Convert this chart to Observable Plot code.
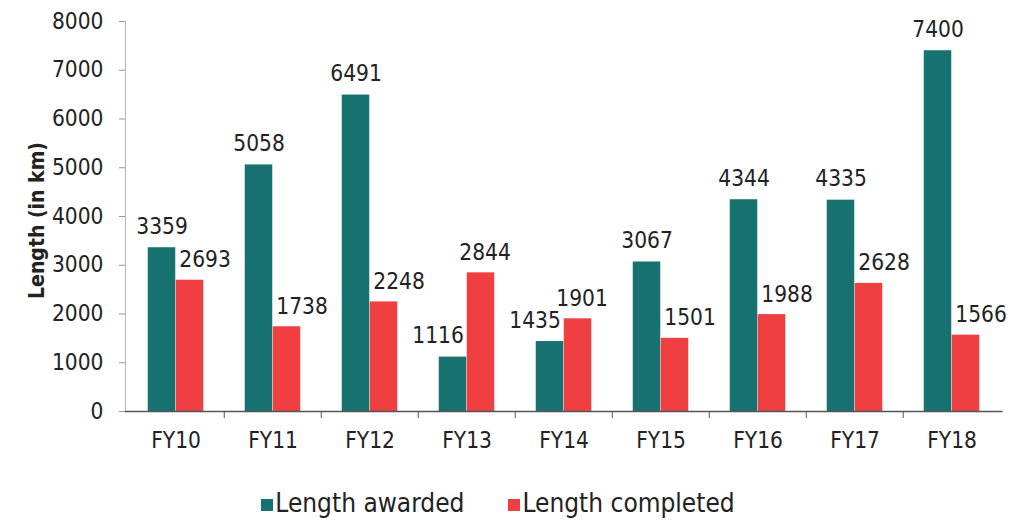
<!DOCTYPE html>
<html>
<head>
<meta charset="utf-8">
<script src="https://cdn.jsdelivr.net/npm/d3@7"></script>
<script src="https://cdn.jsdelivr.net/npm/@observablehq/plot@0.6"></script>
<style>
  html, body { margin: 0; padding: 0; background: #fff; }
  body { width: 1012px; height: 521px; overflow: hidden; font-family: "DejaVu Sans Condensed", "DejaVu Sans", sans-serif; font-stretch: condensed; color: #222; }
  #chart svg { display: block; font-family: "DejaVu Sans Condensed", "DejaVu Sans", sans-serif; font-stretch: condensed; }
  #legend { display: flex; justify-content: center; align-items: center; margin-top: 26px; padding-right: 16px; font-size: 26px; line-height: 30px; color: #222; }
  #legend .item { display: flex; align-items: center; }
  #legend .sw { width: 12px; height: 12px; margin-right: 2px; margin-top: 3px; }
  #legend .item + .item { margin-left: 44px; }
</style>
</head>
<body>
<div id="chart"></div>
<div id="legend"></div>
<script>
const years = ["FY10", "FY11", "FY12", "FY13", "FY14", "FY15", "FY16", "FY17", "FY18"];
const awarded = [3359, 5058, 6491, 1116, 1435, 3067, 4344, 4335, 7400];
const completed = [2693, 1738, 2248, 2844, 1901, 1501, 1988, 2628, 1566];
const seriesNames = ["Length awarded", "Length completed"];
const seriesColors = ["#167170", "#ef3f41"];
const yTicks = [0, 1000, 2000, 3000, 4000, 5000, 6000, 7000, 8000];
const yLabel = "Length (in km)";

const rows = [];
years.forEach((y, i) => {
  rows.push({year: y, series: seriesNames[0], value: awarded[i], other: completed[i]});
  rows.push({year: y, series: seriesNames[1], value: completed[i], other: awarded[i]});
});
const aw = rows.filter(d => d.series === seriesNames[0]);
const co = rows.filter(d => d.series === seriesNames[1]);

const W = 1012, H = 462, mL = 125, mR = 9.5, mT = 21, mB = 51;
const step = (W - mL - mR) / years.length;
const barW = 28;
const plotH = H - mT - mB;
const fs = 22.5;

const chart = Plot.plot({
  width: W, height: H,
  marginLeft: mL, marginRight: mR, marginTop: mT, marginBottom: mB,
  x: {type: "band", domain: years, padding: 0},
  y: {domain: [0, 8000]},
  color: {domain: seriesNames, range: seriesColors},
  marks: [
    Plot.frame({anchor: "left", stroke: "#b5b5b5"}),
    Plot.axisY({ticks: yTicks, tickFormat: d => String(d), tickSize: 6, tickPadding: 16, fontSize: fs, label: null, stroke: "#999", color: "#222"}),
    Plot.axisX({tickSize: 0, tickPadding: 21, fontSize: fs, label: null, color: "#222"}),
    Plot.barY(aw, {x: "year", y: "value", fill: "series", insetLeft: step / 2 - barW, insetRight: step / 2}),
    Plot.barY(co, {x: "year", y: "value", fill: "series", insetLeft: step / 2, insetRight: step / 2 - barW}),
    Plot.ruleY([0], {stroke: "#555", strokeWidth: 1.5}),
    Plot.ruleX(years.slice(1), {x: d => d, dx: -step / 2, insetTop: plotH, insetBottom: -7, stroke: "#555"}),
    Plot.text(aw, {filter: d => d.value >= d.other, x: "year", y: "value", text: d => String(d.value), dx: -barW / 2, dy: -14, lineAnchor: "bottom", fontSize: fs, fill: "#222"}),
    Plot.text(aw, {filter: d => d.value < d.other, x: "year", y: "value", text: d => String(d.value), dx: -barW / 2 - 15, dy: -14, lineAnchor: "bottom", fontSize: fs, fill: "#222"}),
    Plot.text(co, {filter: d => d.value <= d.other, x: "year", y: "value", text: d => String(d.value), dx: barW / 2 + 15, dy: -13, lineAnchor: "bottom", fontSize: fs, fill: "#222"}),
    Plot.text(co, {filter: d => d.value > d.other, x: "year", y: "value", text: d => String(d.value), dx: barW / 2 + 4, dy: -13, lineAnchor: "bottom", fontSize: fs, fill: "#222"}),
    Plot.text([yLabel], {frameAnchor: "left", textAnchor: "middle", rotate: -90, dx: -88, dy: 4, fontSize: 21, fontWeight: "bold", fill: "#222"})
  ]
});
document.getElementById("chart").appendChild(chart);

const legend = document.getElementById("legend");
seriesNames.forEach((name, i) => {
  const item = document.createElement("div");
  item.className = "item";
  const sw = document.createElement("span");
  sw.className = "sw";
  sw.style.background = seriesColors[i];
  const t = document.createElement("span");
  t.textContent = name;
  item.appendChild(sw);
  item.appendChild(t);
  legend.appendChild(item);
});
</script>
</body>
</html>
